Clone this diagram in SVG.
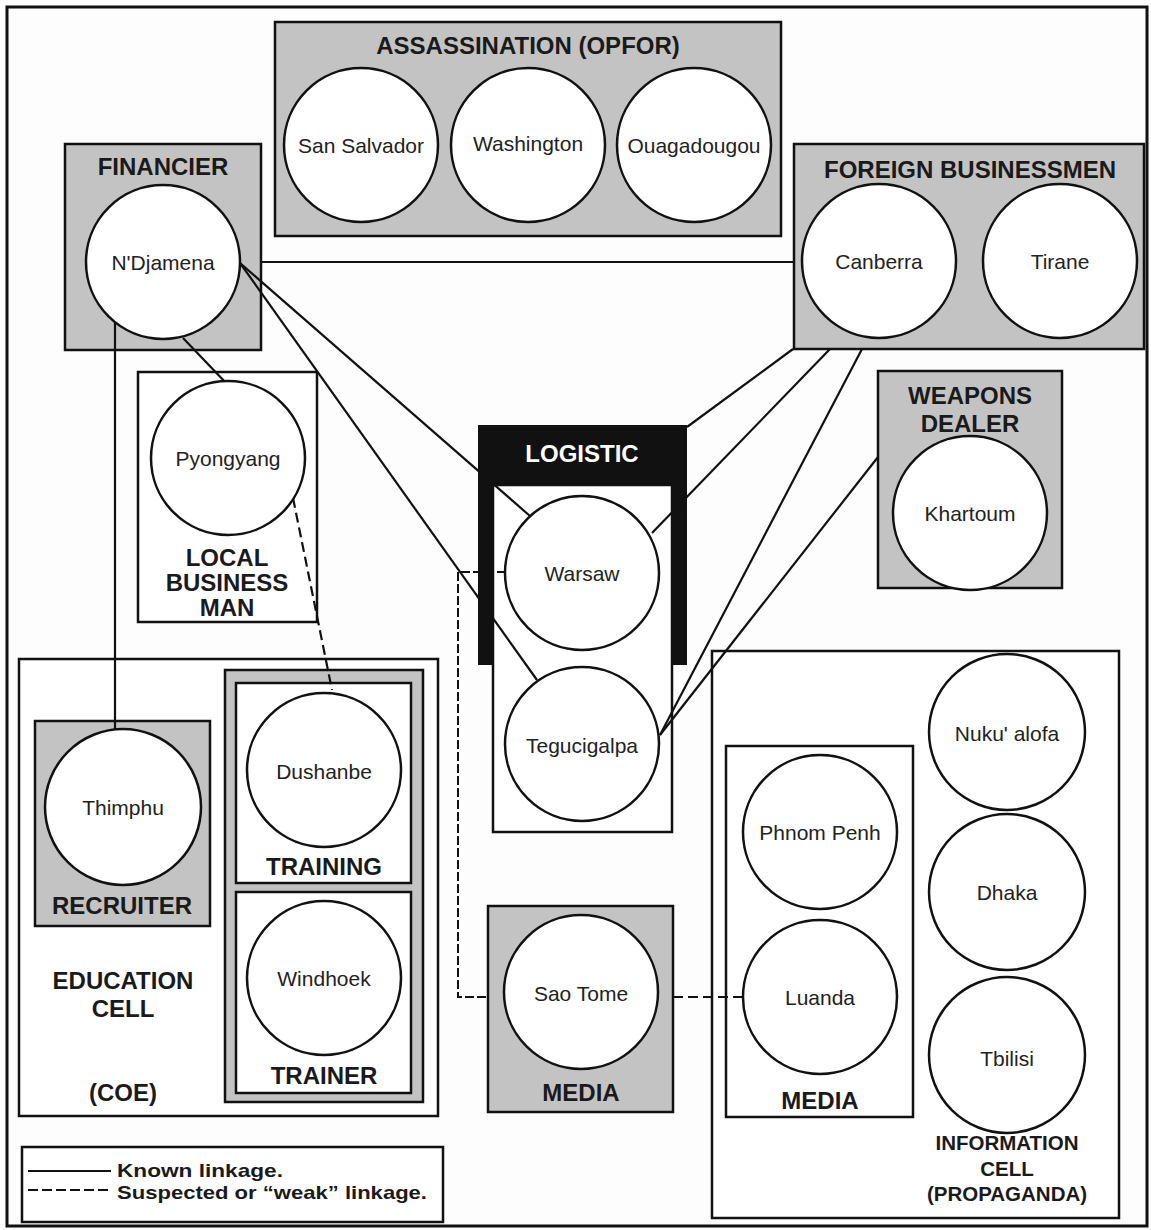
<svg xmlns="http://www.w3.org/2000/svg" width="1151" height="1230" viewBox="0 0 1151 1230">
<style>
.box{fill:#c3c3c3;stroke:#111;stroke-width:2.5}
.wbox{fill:#fff;stroke:#111;stroke-width:2.5}
.node{fill:#fff;stroke:#111;stroke-width:2.5}
.lbl{font-family:"Liberation Sans",Arial,sans-serif;font-size:21px;fill:#222;text-anchor:middle;dominant-baseline:central}
.ttl{font-family:"Liberation Sans",Arial,sans-serif;font-size:24px;font-weight:bold;fill:#1a1a1a;text-anchor:middle;dominant-baseline:central}
.sm{font-size:20.5px}
.leg{font-family:"Liberation Sans",Arial,sans-serif;font-size:19px;font-weight:bold;fill:#1a1a1a;dominant-baseline:central}
.known{fill:none;stroke:#111;stroke-width:2.2}
.weak{fill:none;stroke:#111;stroke-width:2.2;stroke-dasharray:10,5}
.weak2{fill:none;stroke:#111;stroke-width:2;stroke-dasharray:9,3}
</style>
<rect x="0" y="0" width="1151" height="1230" fill="#fdfdfd"/>
<rect x="7" y="7" width="1140" height="1219" fill="none" stroke="#111" stroke-width="3"/>

<!-- containers -->
<g id="assassination">
<rect class="box" x="275" y="22" width="506" height="214"/>
<text class="ttl" x="528" y="45">ASSASSINATION (OPFOR)</text>
</g>
<g id="financier">
<rect class="box" x="65" y="144" width="196" height="206"/>
<text class="ttl" x="163" y="166">FINANCIER</text>
</g>
<g id="foreign-businessmen">
<rect class="box" x="794" y="144" width="350" height="205"/>
<text class="ttl" x="970" y="169">FOREIGN BUSINESSMEN</text>
</g>
<g id="weapons-dealer">
<rect class="box" x="878" y="371" width="184" height="217"/>
<text class="ttl" x="970" y="395">WEAPONS</text>
<text class="ttl" x="970" y="423">DEALER</text>
</g>
<g id="local-business-man">
<rect class="wbox" x="138" y="372" width="179" height="250"/>
<text class="ttl" x="227" y="557">LOCAL</text>
<text class="ttl" x="227" y="582">BUSINESS</text>
<text class="ttl" x="227" y="607">MAN</text>
</g>
<g id="logistic">
<rect x="478" y="425" width="209" height="240" fill="#111"/>
<rect class="wbox" x="493" y="485" width="179" height="347"/>
<text class="ttl" x="582" y="453" style="fill:#fff">LOGISTIC</text>
</g>
<g id="education-cell">
<rect class="wbox" x="19" y="659" width="419" height="457"/>
<text class="ttl" x="123" y="980">EDUCATION</text>
<text class="ttl" x="123" y="1008">CELL</text>
<text class="ttl" x="123" y="1092">(COE)</text>
</g>
<g id="recruiter">
<rect class="box" x="35" y="721" width="175" height="205"/>
<text class="ttl" x="122" y="905">RECRUITER</text>
</g>
<g id="training-group">
<rect class="box" x="225" y="670" width="198" height="432"/>
<rect class="wbox" x="236" y="683" width="175" height="200"/>
<text class="ttl" x="324" y="866">TRAINING</text>
<rect class="wbox" x="236" y="892" width="175" height="201"/>
<text class="ttl" x="324" y="1075">TRAINER</text>
</g>
<g id="media-sao-tome">
<rect class="box" x="488" y="906" width="185" height="206"/>
<text class="ttl" x="581" y="1092">MEDIA</text>
</g>
<g id="information-cell">
<rect class="wbox" x="712" y="651" width="407" height="567"/>
<text class="ttl sm" x="1007" y="1142">INFORMATION</text>
<text class="ttl sm" x="1007" y="1168">CELL</text>
<text class="ttl sm" x="1007" y="1193">(PROPAGANDA)</text>
</g>
<g id="media-inner">
<rect class="wbox" x="726" y="746" width="187" height="371"/>
<text class="ttl" x="820" y="1100">MEDIA</text>
</g>

<!-- connectors -->
<g id="connectors">
<line class="known" x1="261" y1="262" x2="794" y2="262"/>
<line class="known" x1="240" y1="263" x2="530" y2="516"/>
<line class="known" x1="240" y1="263" x2="537" y2="680"/>
<line class="known" x1="183" y1="338" x2="227" y2="384"/>
<line class="known" x1="115" y1="300" x2="115" y2="760"/>
<line class="known" x1="793" y1="349" x2="687" y2="427"/>
<line class="known" x1="830" y1="349" x2="652" y2="533"/>
<line class="known" x1="862" y1="349" x2="660" y2="735"/>
<line class="known" x1="878" y1="457" x2="660" y2="735"/>
<line class="weak" x1="293" y1="498" x2="332" y2="690"/>
<path class="weak2" d="M506,572 H458 V997 H488"/>
<line class="weak" x1="673" y1="997" x2="744" y2="997"/>
</g>

<!-- nodes -->
<g id="san-salvador"><circle class="node" cx="361" cy="145" r="77"/><text class="lbl" x="361" y="145">San Salvador</text></g>
<g id="washington"><circle class="node" cx="528" cy="145" r="77"/><text class="lbl" x="528" y="143">Washington</text></g>
<g id="ouagadougou"><circle class="node" cx="694" cy="145" r="77"/><text class="lbl" x="694" y="145">Ouagadougou</text></g>
<g id="ndjamena"><circle class="node" cx="163" cy="262" r="77"/><text class="lbl" x="163" y="262">N'Djamena</text></g>
<g id="canberra"><circle class="node" cx="879" cy="261" r="77"/><text class="lbl" x="879" y="261">Canberra</text></g>
<g id="tirane"><circle class="node" cx="1060" cy="261" r="77"/><text class="lbl" x="1060" y="261">Tirane</text></g>
<g id="pyongyang"><circle class="node" cx="228" cy="458" r="77"/><text class="lbl" x="228" y="458">Pyongyang</text></g>
<g id="khartoum"><circle class="node" cx="970" cy="513" r="77"/><text class="lbl" x="970" y="513">Khartoum</text></g>
<g id="warsaw"><circle class="node" cx="582" cy="573" r="77"/><text class="lbl" x="582" y="573">Warsaw</text></g>
<g id="tegucigalpa"><circle class="node" cx="582" cy="744" r="77"/><text class="lbl" x="582" y="745">Tegucigalpa</text></g>
<g id="thimphu"><circle class="node" cx="123" cy="807" r="78"/><text class="lbl" x="123" y="807">Thimphu</text></g>
<g id="dushanbe"><circle class="node" cx="324" cy="770" r="77"/><text class="lbl" x="324" y="771">Dushanbe</text></g>
<g id="windhoek"><circle class="node" cx="324" cy="978" r="77"/><text class="lbl" x="324" y="978">Windhoek</text></g>
<g id="sao-tome"><circle class="node" cx="581" cy="992" r="77"/><text class="lbl" x="581" y="993">Sao Tome</text></g>
<g id="phnom-penh"><circle class="node" cx="820" cy="832" r="77"/><text class="lbl" x="820" y="832">Phnom Penh</text></g>
<g id="luanda"><circle class="node" cx="820" cy="997" r="77"/><text class="lbl" x="820" y="997">Luanda</text></g>
<g id="nukualofa"><circle class="node" cx="1007" cy="732" r="78"/><text class="lbl" x="1007" y="733">Nuku' alofa</text></g>
<g id="dhaka"><circle class="node" cx="1007" cy="892" r="78"/><text class="lbl" x="1007" y="892">Dhaka</text></g>
<g id="tbilisi"><circle class="node" cx="1007" cy="1055" r="78"/><text class="lbl" x="1007" y="1058">Tbilisi</text></g>

<!-- legend -->
<g id="legend">
<rect x="22" y="1147" width="421" height="75" fill="#fff" stroke="#111" stroke-width="2.5"/>
<line x1="28" y1="1171" x2="111" y2="1171" stroke="#111" stroke-width="2.2"/>
<line x1="28" y1="1190" x2="111" y2="1190" stroke="#111" stroke-width="2.2" stroke-dasharray="10,4"/>
<text class="leg" x="117" y="1170" textLength="166" lengthAdjust="spacingAndGlyphs">Known linkage.</text>
<text class="leg" x="117" y="1192" textLength="310" lengthAdjust="spacingAndGlyphs">Suspected or “weak” linkage.</text>
</g>
</svg>
